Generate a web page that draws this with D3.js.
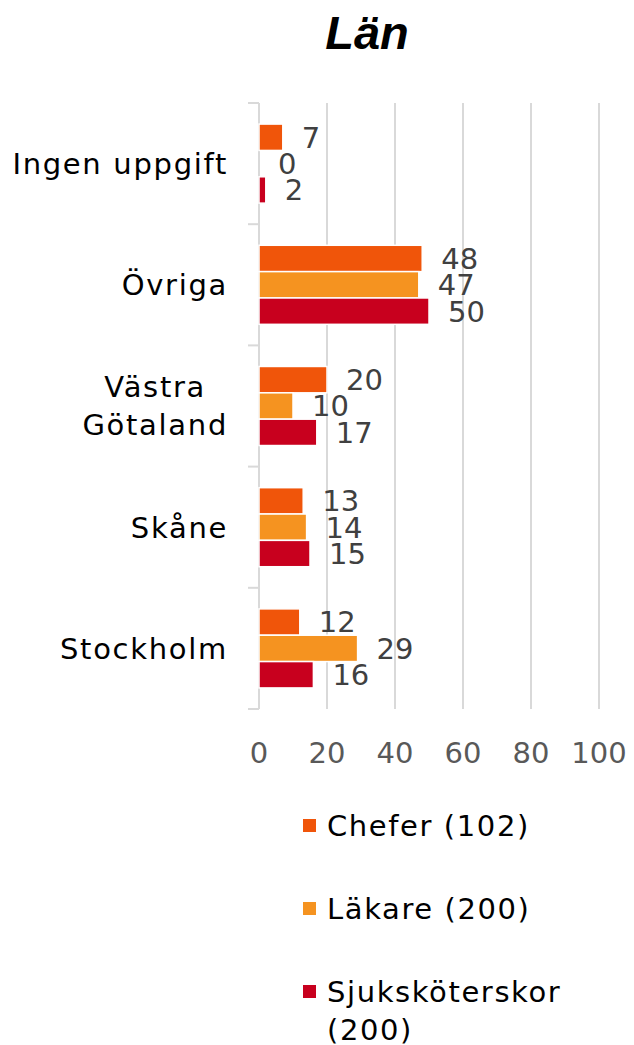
<!DOCTYPE html>
<html>
<head>
<meta charset="utf-8">
<script src="https://cdn.jsdelivr.net/npm/d3@7"></script>
<style>
  body { margin: 0; background: #fff; }
  svg { display: block; font-family: "DejaVu Sans", Verdana, sans-serif; }
</style>
</head>
<body>
<svg id="chart" width="634" height="1045"></svg>
<script>
const categories = ['Ingen uppgift', 'Övriga', 'Västra Götaland', 'Skåne', 'Stockholm'];
const categoryLines = [['Ingen uppgift'], ['Övriga'], ['Västra', 'Götaland'], ['Skåne'], ['Stockholm']];
const seriesNames = ['Chefer (102)', 'Läkare (200)', 'Sjuksköterskor (200)'];
const chefer = [7, 48, 20, 13, 12];
const lakare = [0, 47, 10, 14, 29];
const sjukskoterskor = [2, 50, 17, 15, 16];
const xTicks = [0, 20, 40, 60, 80, 100];
const colors = ['#f0550a', '#f59320', '#c8001e'];

const values = [chefer, lakare, sjukskoterskor];
const svg = d3.select('#chart');

const x = d3.scaleLinear().domain([0, 100]).range([259, 599]);
const y = d3.scaleBand().domain(categories).range([103, 709]);
const yInner = d3.scaleBand().domain(seriesNames).range([0, y.bandwidth()]).paddingOuter(0.8);

// title
svg.append('text')
  .attr('x', 367).attr('y', 49)
  .attr('text-anchor', 'middle')
  .style('font-family', '"Liberation Sans", Arial, sans-serif')
  .style('font-weight', 'bold').style('font-style', 'italic')
  .style('font-size', '47px')
  .text('Län');

// gridlines
svg.append('g')
  .selectAll('line')
  .data(xTicks.slice(1))
  .join('line')
  .attr('x1', d => x(d)).attr('x2', d => x(d))
  .attr('y1', 103).attr('y2', 709)
  .attr('stroke', '#d9d9d9').attr('stroke-width', 2);

// category axis line + ticks
const yAxis = svg.append('g').attr('stroke', '#d9d9d9').attr('stroke-width', 2);
yAxis.append('line')
  .attr('x1', x(0)).attr('x2', x(0)).attr('y1', 103).attr('y2', 709);
yAxis.selectAll('.tick')
  .data(categories.map(c => y(c)).concat([709]))
  .join('line')
  .attr('x1', 248).attr('x2', x(0))
  .attr('y1', d => d).attr('y2', d => d);

// x tick labels
svg.append('g')
  .selectAll('text')
  .data(xTicks)
  .join('text')
  .attr('x', d => x(d)).attr('y', 763)
  .attr('text-anchor', 'middle')
  .attr('fill', '#595959')
  .style('font-size', '29px')
  .text(d => d);

// category labels
categories.forEach((cat, i) => {
  const lines = categoryLines[i];
  const cy = y(cat) + y.bandwidth() / 2;
  const g = svg.append('g');
  const lh = 38;
  const texts = lines.map((line, j) => g.append('text')
    .attr('y', cy + (j - (lines.length - 1) / 2) * lh)
    .attr('dy', '0.36em')
    .attr('fill', '#000')
    .style('font-size', '29px')
    .style('letter-spacing', '1.7px')
    .text(line));
  const widths = texts.map(t => t.node().getComputedTextLength());
  const maxW = d3.max(widths);
  texts.forEach(t => t.attr('x', 228 - maxW / 2).attr('text-anchor', 'middle'));
});

// bars
seriesNames.forEach((s, si) => {
  const g = svg.append('g');
  g.selectAll('rect')
    .data(values[si])
    .join('rect')
    .attr('x', x(0))
    .attr('y', (d, i) => y(categories[i]) + yInner(s))
    .attr('width', d => x(d) - x(0))
    .attr('height', yInner.bandwidth())
    .attr('fill', colors[si])
    .attr('stroke', '#fff').attr('stroke-width', 1.5);
  g.selectAll('text')
    .data(values[si])
    .join('text')
    .attr('x', d => x(d) + 19)
    .attr('y', (d, i) => y(categories[i]) + yInner(s) + yInner.bandwidth() / 2)
    .attr('dy', '0.36em')
    .attr('fill', '#404040')
    .style('font-size', '29px')
    .text(d => d);
});

// legend
const legendLines = [['Chefer (102)'], ['Läkare (200)'], ['Sjuksköterskor', '(200)']];
legendLines.forEach((lines, i) => {
  const cy = 826 + i * 83;
  svg.append('rect')
    .attr('x', 303).attr('y', cy - 7)
    .attr('width', 13).attr('height', 13)
    .attr('fill', colors[i]);
  lines.forEach((line, j) => {
    svg.append('text')
      .attr('x', 327).attr('y', cy + j * 38)
      .attr('dy', '0.36em')
      .style('font-size', '29px')
      .style('letter-spacing', '1.6px')
      .text(line);
  });
});
</script>
</body>
</html>
